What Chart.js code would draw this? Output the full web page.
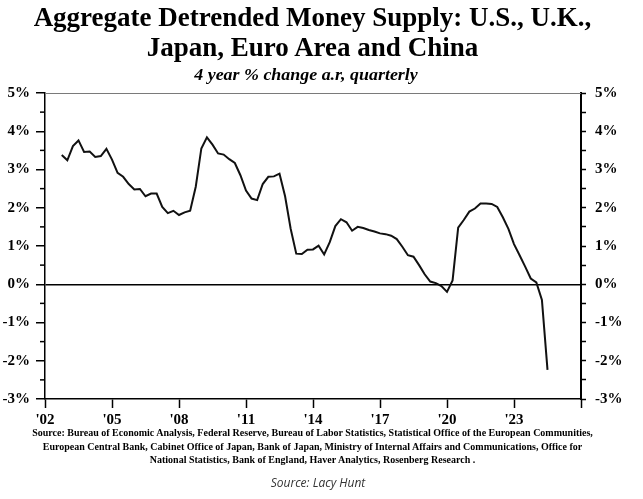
<!DOCTYPE html>
<html>
<head>
<meta charset="utf-8">
<script src="https://cdn.jsdelivr.net/npm/chart.js@4.4.1/dist/chart.umd.min.js"></script>
<style>
  html, body { margin: 0; padding: 0; background: #fff; }
  body { width: 643px; height: 499px; overflow: hidden; position: relative; }
  #c { position: absolute; left: 0; top: 0; }
  .t { position: absolute; left: 0; width: 625px; text-align: center; color: #000; white-space: nowrap;
       font-family: "Liberation Serif", "Times New Roman", serif; }
  .title { font-size: 27px; line-height: 27px; font-weight: bold; }
  .sub { font-size: 16px; line-height: 16px; font-weight: bold; font-style: italic; transform: scaleX(1.12); }
  .src { font-size: 10px; line-height: 13.5px; font-weight: bold; }
  .credit { position: absolute; left: 0; width: 636px; text-align: center; font-family: "Open Sans", sans-serif;
            font-style: italic; font-size: 12px; line-height: 14px; color: #333; }
</style>
</head>
<body>
<canvas id="c" width="643" height="499"></canvas>
<div class="t title" style="top:4px;">Aggregate Detrended Money Supply: U.S., U.K.,</div>
<div class="t title" style="top:34px;">Japan, Euro Area and China</div>
<div class="t sub" style="top:67px; width:612px;">4 year % change a.r, quarterly</div>
<div class="t src" style="top:426px;">Source: Bureau of Economic Analysis, Federal Reserve, Bureau of Labor Statistics, Statistical Office of the European Communities,<br>European Central Bank, Cabinet Office of Japan, Bank of Japan, Ministry of Internal Affairs and Communications, Office for<br>National Statistics, Bank of England, Haver Analytics, Rosenberg Research .</div>
<div class="credit" style="top:476px;">Source: Lacy Hunt</div>
<script>
// ---- data ----
const startYear = 2002.75;               // first quarterly observation
const quarterStep = 0.25;
const values = [
  3.38, 3.24, 3.61, 3.76, 3.46, 3.47, 3.33, 3.35, 3.54, 3.26,
  2.91, 2.81, 2.62, 2.48, 2.49, 2.30, 2.37, 2.37, 2.02, 1.86,
  1.92, 1.81, 1.88, 1.92, 2.55, 3.55, 3.84, 3.65, 3.42, 3.39,
  3.27, 3.17, 2.85, 2.45, 2.24, 2.20, 2.62, 2.81, 2.82, 2.89,
  2.30, 1.45, 0.80, 0.79, 0.90, 0.91, 1.01, 0.78, 1.10, 1.52,
  1.70, 1.62, 1.40, 1.50, 1.47, 1.42, 1.38, 1.33, 1.31, 1.27,
  1.18, 0.98, 0.76, 0.72, 0.50, 0.26, 0.07, 0.03, -0.05, -0.20,
  0.10, 1.48, 1.68, 1.90, 1.98, 2.11, 2.11, 2.10, 2.02, 1.75,
  1.45, 1.05, 0.76, 0.46, 0.15, 0.05, -0.41, -2.24
];
const xTickYears = [2002, 2005, 2008, 2011, 2014, 2017, 2020, 2023, 2026];
const xLabels = ["'02", "'05", "'08", "'11", "'14", "'17", "'20", "'23", ""];
const yMin = -3, yMax = 5;

const points = values.map((v, i) => ({ x: startYear + i * quarterStep, y: v }));
const serif = '"Liberation Serif", "Times New Roman", serif';

const framePlugin = {
  id: 'frame',
  afterDraw(chart) {
    const { ctx, chartArea: a, scales } = chart;
    ctx.save();
    ctx.strokeStyle = '#7a7a7a';
    ctx.lineWidth = 1;
    ctx.beginPath();
    ctx.moveTo(a.left, a.top + 0.5);
    ctx.lineTo(a.right, a.top + 0.5);
    ctx.stroke();
    // minor (half-percent) ticks on the left axis
    const ys = scales.y;
    ctx.strokeStyle = '#000';
    ctx.lineWidth = 1.5;
    for (let v = yMin + 0.5; v < yMax; v += 1) {
      const py = ys.getPixelForValue(v);
      ctx.beginPath();
      ctx.moveTo(a.left - 5, py);
      ctx.lineTo(a.left, py);
      ctx.stroke();
    }
    ctx.restore();
  }
};

const pct = v => Number.isInteger(v) ? v + '%' : '';

new Chart(document.getElementById('c'), {
  type: 'line',
  data: {
    datasets: [{
      data: points,
      borderColor: '#111',
      borderWidth: 2,
      pointRadius: 0,
      tension: 0,
      fill: false
    }]
  },
  options: {
    responsive: false,
    animation: false,
    devicePixelRatio: 1,
    layout: { padding: { top: 93, left: 0, right: 0, bottom: 0 } },
    plugins: { legend: { display: false }, tooltip: { enabled: false }, title: { display: false } },
    scales: {
      x: {
        type: 'linear', min: 2002, max: 2026,
        afterBuildTicks: s => { s.ticks = xTickYears.map(v => ({ value: v })); },
        afterFit: s => { s.height = 100; },
        ticks: {
          autoSkip: false, maxRotation: 0, minRotation: 0, padding: 3, color: '#000',
          font: { family: serif, size: 15, weight: 'bold' },
          callback: (v) => xLabels[xTickYears.indexOf(v)] ?? ''
        },
        grid: { drawOnChartArea: false, tickLength: 9, tickColor: '#000', tickWidth: 1.5 },
        border: { color: '#000', width: 1.5 }
      },
      y: {
        position: 'left', min: yMin, max: yMax,
        afterFit: s => { s.width = 45; },
        ticks: {
          stepSize: 1, padding: 6, color: '#000',
          font: { family: serif, size: 15, weight: 'bold' },
          callback: pct
        },
        grid: {
          drawOnChartArea: true, tickLength: 9, tickColor: '#000', tickWidth: 1.5,
          color: c => (c.tick && c.tick.value === 0) ? '#000' : 'rgba(0,0,0,0)',
          lineWidth: 1.5
        },
        border: { color: '#000', width: 1.5 }
      },
      y2: {
        position: 'right', min: yMin, max: yMax,
        afterFit: s => { s.width = 62; },
        ticks: {
          stepSize: 0.5, padding: 9, color: '#000', autoSkip: false,
          font: { family: serif, size: 15, weight: 'bold' },
          callback: pct
        },
        grid: { drawOnChartArea: false, tickLength: 5, tickColor: '#000', tickWidth: 1.5 },
        border: { color: '#000', width: 2 }
      }
    }
  },
  plugins: [framePlugin]
});
</script>
</body>
</html>
